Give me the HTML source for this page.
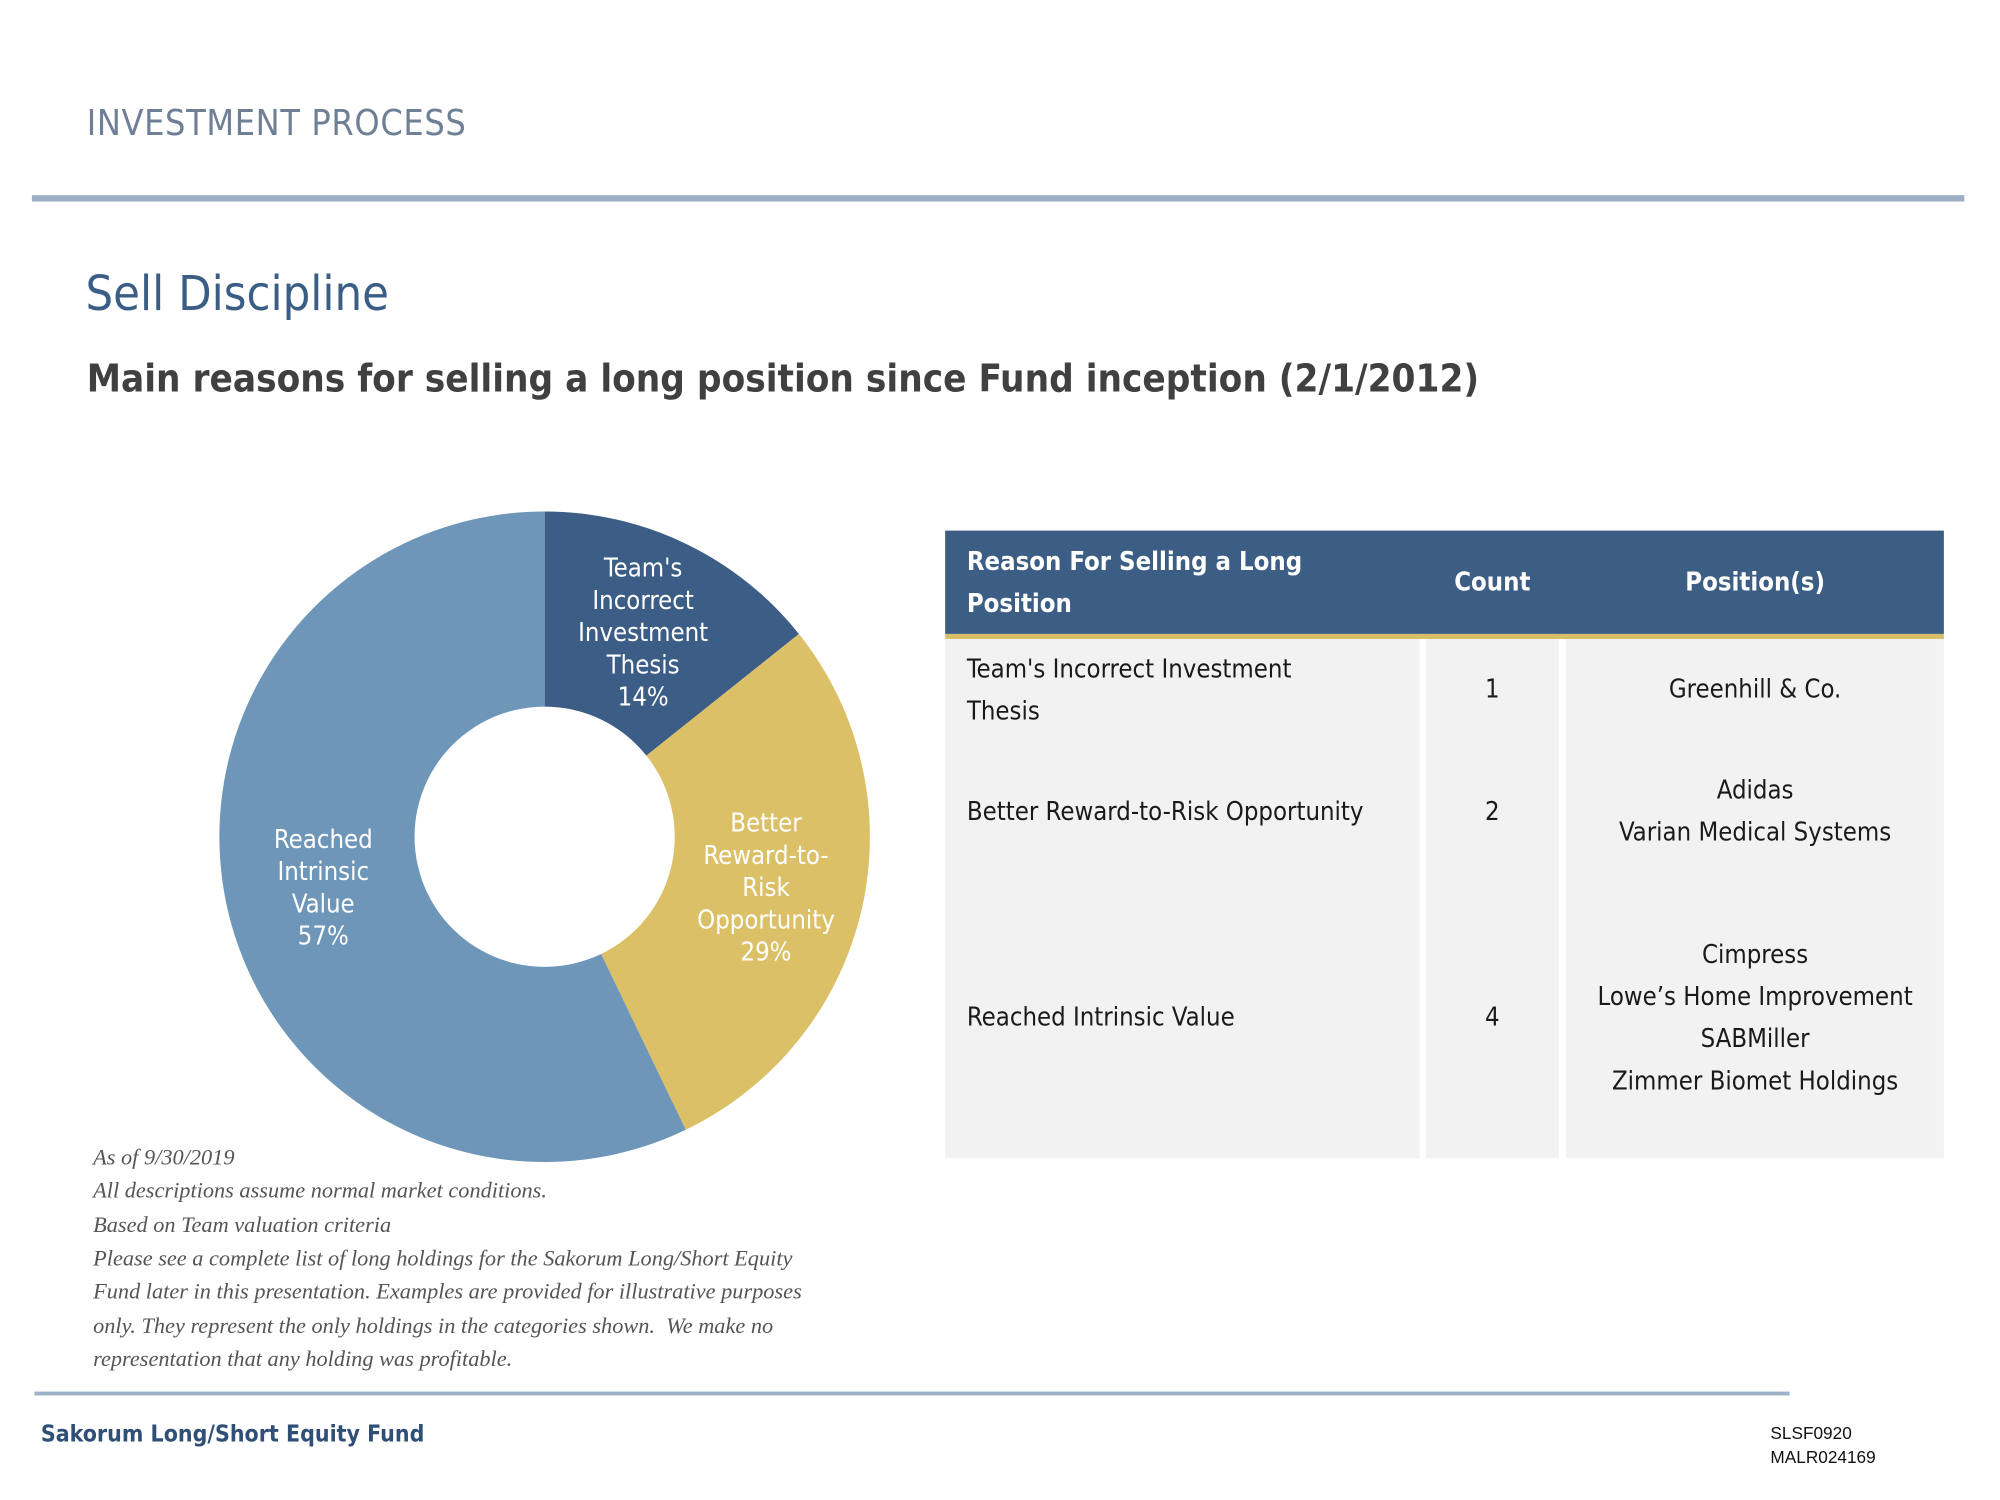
<!DOCTYPE html>
<html><head><meta charset="utf-8">
<style>
html,body{margin:0;padding:0;background:#fff;}
body{width:2000px;height:1500px;overflow:hidden;position:relative;}
#wrap{position:absolute;left:0;top:0;width:1568px;height:1176px;transform:scale(1.27551);transform-origin:0 0;font-family:"DejaVu Sans Condensed","Liberation Sans",sans-serif;}
.abs{position:absolute;white-space:nowrap;}
.hline{position:absolute;background:#9DB0C8;}
.cell{position:absolute;font-size:20px;color:#1a1a1a;line-height:33px;}
.fn{position:absolute;left:73px;font-family:"Liberation Serif",serif;font-style:italic;font-size:17.5px;color:#555;white-space:nowrap;}
</style></head><body>
<div id="wrap">
<div class="abs" style="left:68px;top:80px;font-size:28px;color:#6F7F96;letter-spacing:0.5px">INVESTMENT PROCESS</div>
<div class="hline" style="left:25px;top:153px;width:1515px;height:5px"></div>
<div class="abs" style="left:67px;top:208px;font-size:38px;color:#3B5E86">Sell Discipline</div>
<div class="abs" style="left:68px;top:280px;font-size:30px;font-weight:bold;color:#404040">Main reasons for selling a long position since Fund inception (2/1/2012)</div>

<svg id="donut" style="position:absolute;left:0;top:0" width="900" height="950"></svg>

<div>
<div class="abs" style="left:741px;top:416px;width:783px;height:81px;background:#3C5E85"></div>
<div class="abs" style="left:741px;top:497px;width:783px;height:4px;background:#D9BE6A"></div>
<div class="abs" style="left:741px;top:501px;width:372px;height:407px;background:#F2F2F2"></div>
<div class="abs" style="left:1118px;top:501px;width:104px;height:407px;background:#F2F2F2"></div>
<div class="abs" style="left:1228px;top:501px;width:296px;height:407px;background:#F2F2F2"></div>
<div class="cell" style="left:758px;top:424px;color:#fff;font-weight:bold;line-height:33px">Reason For Selling a Long<br>Position</div>
<div class="cell" style="left:1118px;width:104px;text-align:center;top:440px;color:#fff;font-weight:bold">Count</div>
<div class="cell" style="left:1228px;width:296px;text-align:center;top:440px;color:#fff;font-weight:bold">Position(s)</div>

<div class="cell" style="left:758px;top:508px">Team's Incorrect Investment<br>Thesis</div>
<div class="cell" style="left:1118px;width:104px;text-align:center;top:524px">1</div>
<div class="cell" style="left:1228px;width:296px;text-align:center;top:524px">Greenhill &amp; Co.</div>

<div class="cell" style="left:758px;top:620px">Better Reward-to-Risk Opportunity</div>
<div class="cell" style="left:1118px;width:104px;text-align:center;top:620px">2</div>
<div class="cell" style="left:1228px;width:296px;text-align:center;top:603px">Adidas<br>Varian Medical Systems</div>

<div class="cell" style="left:758px;top:781px">Reached Intrinsic Value</div>
<div class="cell" style="left:1118px;width:104px;text-align:center;top:781px">4</div>
<div class="cell" style="left:1228px;width:296px;text-align:center;top:732px">Cimpress<br>Lowe’s Home Improvement<br>SABMiller<br>Zimmer Biomet Holdings</div>
</div>

<div>
<div class="fn" style="top:897px">As of 9/30/2019</div>
<div class="fn" style="top:923px">All descriptions assume normal market conditions.</div>
<div class="fn" style="top:950px">Based on Team valuation criteria</div>
<div class="fn" style="top:976px">Please see a complete list of long holdings for the Sakorum Long/Short Equity</div>
<div class="fn" style="top:1002px">Fund later in this presentation. Examples are provided for illustrative purposes</div>
<div class="fn" style="top:1029px">only. They represent the only holdings in the categories shown.&nbsp; We make no</div>
<div class="fn" style="top:1055px">representation that any holding was profitable.</div>
</div>
<div class="hline" style="left:27px;top:1091px;width:1376px;height:3px"></div>
<div class="abs" style="left:32px;top:1114px;font-size:18px;font-weight:bold;color:#2F4F77">Sakorum Long/Short Equity Fund</div>
<div class="abs" style="left:1388px;top:1114px;font-family:'Liberation Sans',sans-serif;font-size:13.5px;line-height:19px;color:#111">SLSF0920<br>MALR024169</div>
</div>
<script>
const categories = [["Team's","Incorrect","Investment","Thesis"],["Better","Reward-to-","Risk","Opportunity"],["Reached","Intrinsic","Value"]];
const counts = [1, 2, 4];
const percentLabels = ["14%", "29%", "57%"];
const colors = ["#3C5E86", "#DCC067", "#6E96B8"];
const svg = document.getElementById('donut');
const NS = 'http://www.w3.org/2000/svg';
const cx = 427, cy = 656, R = 255, r = 102, LR = 178;
const total = counts.reduce((a,b)=>a+b,0);
function pt(rad, frac){ const a = frac*2*Math.PI; return [cx + rad*Math.sin(a), cy - rad*Math.cos(a)]; }
let acc = 0;
counts.forEach((v,i)=>{
  const f0 = acc/total, f1 = (acc+v)/total; acc += v;
  const large = (f1-f0) > 0.5 ? 1 : 0;
  const [x0,y0]=pt(R,f0),[x1,y1]=pt(R,f1),[x2,y2]=pt(r,f1),[x3,y3]=pt(r,f0);
  const p = document.createElementNS(NS,'path');
  p.setAttribute('d',`M${x0},${y0} A${R},${R} 0 ${large} 1 ${x1},${y1} L${x2},${y2} A${r},${r} 0 ${large} 0 ${x3},${y3} Z`);
  p.setAttribute('fill',colors[i]);
  
  
  svg.appendChild(p);
  const [lx,ly] = pt(LR,(f0+f1)/2);
  const lines = categories[i].concat([percentLabels[i]]);
  const t = document.createElementNS(NS,'text');
  
  
  t.setAttribute('text-anchor','middle');
  t.setAttribute('fill','#fff');
  t.setAttribute('font-size','20');
  t.setAttribute('font-family','"DejaVu Sans Condensed","Liberation Sans",sans-serif');
  const lh = 25.3, startY = ly - (lines.length-1)*lh/2 + 7;
  lines.forEach((s,k)=>{
    const ts = document.createElementNS(NS,'tspan');
    ts.setAttribute('x',lx); ts.setAttribute('y',startY+k*lh);
    ts.textContent = s; t.appendChild(ts);
  });
  svg.appendChild(t);
});
</script>
</body></html>
